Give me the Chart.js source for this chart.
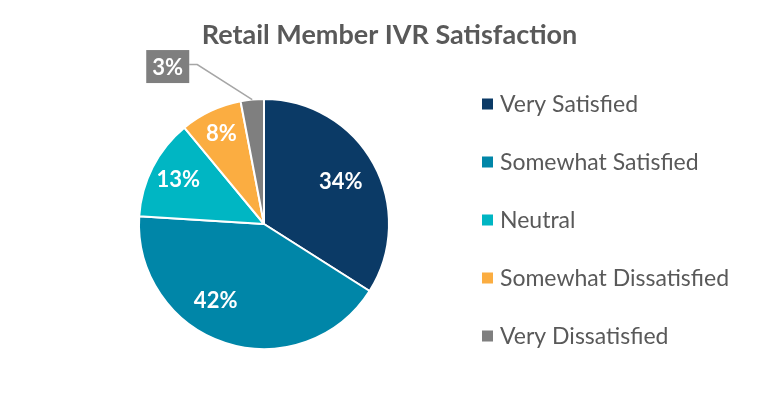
<!DOCTYPE html>
<html>
<head>
<meta charset="utf-8">
<script src="https://cdn.jsdelivr.net/npm/chart.js@4/dist/chart.umd.min.js"></script>
<style>
  html, body { margin: 0; padding: 0; background: #ffffff; }
  #wrap { width: 779px; height: 395px; position: relative; }
</style>
</head>
<body>
<div id="wrap"><canvas id="c" width="779" height="395"></canvas></div>
<script>
const chartTitle = 'Retail Member IVR Satisfaction';
const categories = ['Very Satisfied', 'Somewhat Satisfied', 'Neutral', 'Somewhat Dissatisfied', 'Very Dissatisfied'];
const values = [34, 42, 13, 8, 3];
const sliceColors = ['#0B3A66', '#0086A8', '#00B6C3', '#FBAD41', '#7F7F7F'];

const FONT = 'Lato, "Open Sans", sans-serif';
const TEXT_GRAY = '#595959';

// styling for the drawn texts (kept outside Chart.js option resolver)
const TITLE_STYLE = { x: 389.5, y: 35, size: 27 };
const LABEL_STYLE = {
  size: 22,
  placements: [
    { r: 0.70, shift: 0 },
    { r: 0.73, shift: 14 },
    { r: 0.77, shift: 0 },
    { r: 0.80, shift: 0 },
    { outside: true, shift: 0, dx: -55, dy: -35, gap: 8 }
  ]
};
const LEGEND_STYLE = { x: 482, y0: 104, step: 58, box: 11, textX: 500, size: 23 };

const titlePlugin = {
  id: 'titlePlugin',
  afterDraw(chart) {
    const ctx = chart.ctx;
    ctx.save();
    ctx.font = 'bold ' + TITLE_STYLE.size + 'px ' + FONT;
    ctx.fillStyle = TEXT_GRAY;
    ctx.textAlign = 'center';
    ctx.textBaseline = 'middle';
    ctx.fillText(chartTitle, TITLE_STYLE.x, TITLE_STYLE.y);
    ctx.restore();
  }
};

// Percentage labels drawn at each arc
const pctLabels = {
  id: 'pctLabels',
  afterDatasetsDraw(chart) {
    const ctx = chart.ctx;
    const meta = chart.getDatasetMeta(0);
    const data = chart.data.datasets[0].data;
    const total = data.reduce((a, b) => a + b, 0);
    ctx.save();
    meta.data.forEach((arc, i) => {
      const p = arc.getProps(['x', 'y', 'startAngle', 'endAngle', 'outerRadius'], true);
      const txt = Math.round(data[i] / total * 100) + '%';
      const place = LABEL_STYLE.placements[i];
      const mid = (p.startAngle + p.endAngle) / 2 + place.shift * Math.PI / 180;
      ctx.font = 'bold ' + LABEL_STYLE.size + 'px ' + FONT;
      ctx.textAlign = 'center';
      ctx.textBaseline = 'middle';
      if (place.outside) {
        const ax = p.x + Math.cos(mid) * p.outerRadius;
        const ay = p.y + Math.sin(mid) * p.outerRadius;
        const ex = ax + place.dx, ey = ay + place.dy;
        const bw = 43, bh = 33;
        const bx = ex - place.gap - bw, by = ey - bh / 2 + 2;
        ctx.strokeStyle = '#A6A6A6';
        ctx.lineWidth = 1.5;
        ctx.beginPath();
        ctx.moveTo(ax, ay);
        ctx.lineTo(ex, ey);
        ctx.lineTo(ex - place.gap, ey);
        ctx.stroke();
        ctx.fillStyle = chart.data.datasets[0].backgroundColor[i];
        ctx.fillRect(bx, by, bw, bh);
        ctx.fillStyle = '#ffffff';
        ctx.fillText(txt, bx + bw / 2, by + bh / 2 + 1);
      } else {
        const r = p.outerRadius * place.r;
        ctx.fillStyle = '#ffffff';
        ctx.fillText(txt, p.x + Math.cos(mid) * r, p.y + Math.sin(mid) * r);
      }
    });
    ctx.restore();
  }
};

// Legend drawn on the right
const sideLegend = {
  id: 'sideLegend',
  afterDraw(chart) {
    const ctx = chart.ctx;
    const o = LEGEND_STYLE;
    const colors = chart.data.datasets[0].backgroundColor;
    ctx.save();
    ctx.font = o.size + 'px ' + FONT;
    ctx.textAlign = 'left';
    ctx.textBaseline = 'middle';
    chart.data.labels.forEach((lab, i) => {
      const cy = o.y0 + i * o.step;
      ctx.fillStyle = colors[i];
      ctx.fillRect(o.x, cy - o.box / 2, o.box, o.box);
      ctx.fillStyle = TEXT_GRAY;
      ctx.fillText(lab, o.textX, cy + 1);
    });
    ctx.restore();
  }
};

new Chart(document.getElementById('c'), {
  type: 'pie',
  data: {
    labels: categories,
    datasets: [{
      data: values,
      backgroundColor: sliceColors,
      borderColor: '#ffffff',
      borderWidth: 2
    }]
  },
  options: {
    responsive: false,
    animation: false,
    layout: { padding: { top: 98, left: 138, right: 389, bottom: 45 } },
    plugins: {
      legend: { display: false },
      tooltip: { enabled: false },
      title: { display: false }
    }
  },
  plugins: [titlePlugin, pctLabels, sideLegend]
});
</script>
</body>
</html>
